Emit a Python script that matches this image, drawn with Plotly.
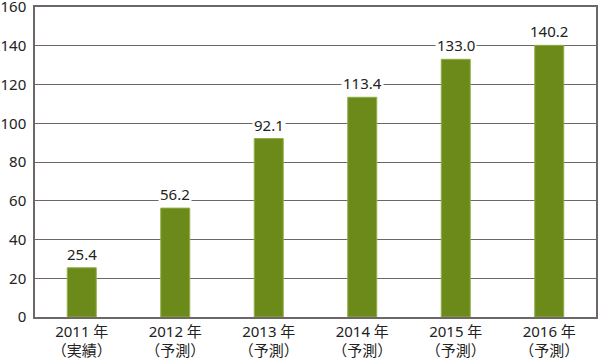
import plotly.graph_objects as go

years = ["2011 年", "2012 年", "2013 年", "2014 年", "2015 年", "2016 年"]
kinds = ["（実績）", "（予測）", "（予測）", "（予測）", "（予測）", "（予測）"]
values = [25.4, 56.2, 92.1, 113.4, 133.0, 140.2]
y_ticks = [0, 20, 40, 60, 80, 100, 120, 140, 160]

cats = [f"{y}<br>{k}" for y, k in zip(years, kinds)]
FONT = "Noto Sans, Noto Sans CJK JP, sans-serif"

fig = go.Figure()
fig.add_trace(go.Bar(
    x=cats, y=values,
    marker=dict(color="#6b8a19", line=dict(color="#8fae45", width=1)),
    width=0.31,
))
for c, v in zip(cats, values):
    fig.add_annotation(
        x=c, y=v, text=f"{v:.1f}", showarrow=False,
        yanchor="bottom", yshift=2,
        bgcolor="white", borderpad=1,
        font=dict(family=FONT, size=15, color="#222"),
    )

fig.update_layout(
    width=600, height=362,
    margin=dict(l=35, r=4, t=7, b=45, autoexpand=False),
    plot_bgcolor="white", paper_bgcolor="white",
    showlegend=False,
    font=dict(family=FONT, size=15, color="#222"),
)
fig.update_xaxes(
    showline=True, linecolor="#6e6767", linewidth=1.5, mirror=True,
    showgrid=False, ticks="", tickfont=dict(size=15), automargin=False,
    ticklabelstandoff=0,
)
fig.update_yaxes(
    range=[0, 160], tickvals=y_ticks, ticktext=[str(t) for t in y_ticks],
    tickmode="array", ticklabeloverflow="allow", ticklabelstandoff=4,
    showline=True, linecolor="#6e6767", linewidth=1.5, mirror=True,
    showgrid=True, gridcolor="#6e6767", gridwidth=1,
    ticks="", tickfont=dict(size=15), zeroline=False,
    automargin=False,
)
fig.write_html(
    "out.html",
    config={"displayModeBar": False},
    post_script="document.body.style.margin='0';document.body.style.padding='0';",
)
